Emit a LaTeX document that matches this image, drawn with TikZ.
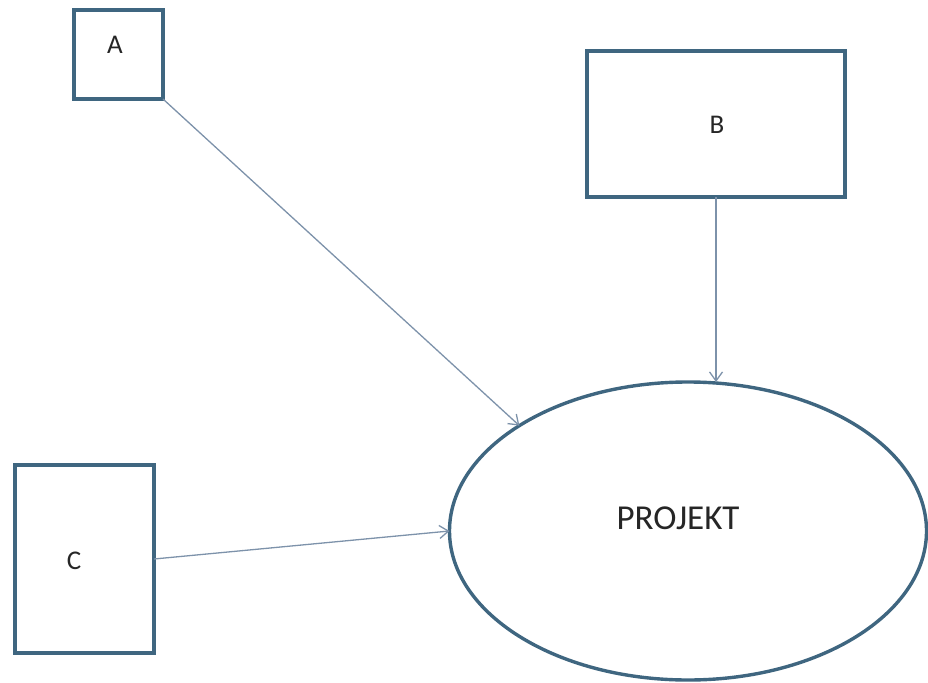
\documentclass[tikz,border=0pt]{standalone}
\usepackage{fontspec}
\setmainfont{Carlito}
\usetikzlibrary{shapes.geometric,arrows.meta}
\definecolor{edge}{HTML}{3F6680}
\definecolor{link}{HTML}{7D92AA}
\tikzset{
  box/.style={draw=edge, line width=3.6pt, fill=white, rectangle, inner sep=0pt, outer sep=0pt},
  lbl/.style={font=\fontsize{27}{30}\selectfont, text=black!85, inner sep=0pt},
  link/.style={draw=link, line width=1.3pt, -{Straight Barb[length=9pt,width=13pt,line width=1.3pt]}},
}
\begin{document}
\begin{tikzpicture}[x=1pt,y=1pt]
\useasboundingbox (0,0) rectangle (928,-682);
\node[box, minimum width=89pt, minimum height=89pt] (A) at (118.5,-54.5) {};
\node[lbl] (tA) at (115,-45) {A};
\node[box, minimum width=258pt, minimum height=146pt] (B) at (716,-124) {};
\node[lbl] (tB) at (717,-125) {B};
\node[box, minimum width=139pt, minimum height=188pt] (C) at (84.5,-559) {};
\node[lbl] (tC) at (74,-561) {C};
\node[draw=edge, line width=3.4pt, ellipse, minimum width=477pt, minimum height=298pt, inner sep=0pt, outer sep=0pt] (P) at (688,-531) {};
\node[lbl, font=\fontsize{35}{40}\selectfont] (tP) at (678,-518) {PROJEKT};
\draw[link] (A.south east) -- (P.148.6);
\draw[link] (B.south) -- (B.south |- P.north);
\draw[link] (C.east) -- (P.180.6);
\end{tikzpicture}
\end{document}
